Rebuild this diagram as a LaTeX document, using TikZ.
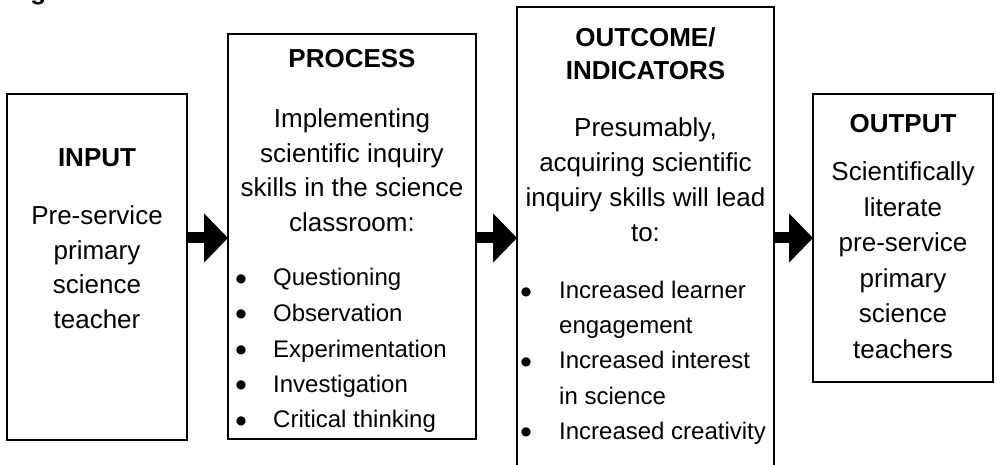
\documentclass[tikz,border=0pt]{standalone}
\usepackage{fontspec}
\setmainfont{Liberation Sans}
\newfontfamily\bulfont{DejaVu Sans}
\usetikzlibrary{arrows.meta}
\begin{document}
\begin{tikzpicture}[x=1pt,y=-1pt,
  box/.style={draw, line width=1.8pt, inner sep=0pt, outer sep=0pt, anchor=north west},
  t/.style={font=\fontsize{26}{31}\selectfont, inner sep=0pt, anchor=base},
  tl/.style={font=\fontsize{24}{29}\selectfont, inner sep=0pt, anchor=base west},
  hd/.style={font=\fontsize{26}{31}\selectfont\bfseries, inner sep=0pt, anchor=base},
  bul/.style={font=\bulfont\fontsize{12}{13}\selectfont, inner sep=0pt, anchor=center},
  conn/.style={line width=11pt, -{Triangle[length=24pt,width=48pt]}}]
\useasboundingbox (0,0) rectangle (997,465);
% cut-off caption
\node[hd, anchor=base west] (fig) at (7,0) {Figure};
% boxes
\node[box, minimum width=180pt, minimum height=346pt] (inp) at (7,94) {};
\node[box, minimum width=248pt, minimum height=405pt] (proc) at (228,34) {};
\node[box, minimum width=257pt, minimum height=470pt] (outc) at (517,7) {};
\node[box, minimum width=180pt, minimum height=288pt] (outp) at (813,94) {};
% INPUT
\node[hd] (inph) at (97,167) {INPUT};
\foreach \txt/\yy [count=\i] in {Pre-service/225, primary/259.5, science/294, teacher/328.5}
  \node[t] (inp\i) at (97,\yy) {\txt};
% PROCESS
\node[hd] (proch) at (352,68) {PROCESS};
\foreach \txt/\yy [count=\i] in {Implementing/128, scientific inquiry/162.5, skills in the science/197, classroom:/231.5}
  \node[t] (proc\i) at (352,\yy) {\txt};
\foreach \txt/\yy [count=\i] in {Questioning/286, Observation/321.5, Experimentation/357, Investigation/392.5, Critical thinking/428}{
  \node[bul] (procb\i) at (241,\yy-7) {●};
  \node[tl] (procl\i) at (273,\yy) {\txt};
}
% OUTCOME
\node[hd] (outch1) at (645.5,47) {OUTCOME/};
\node[hd] (outch2) at (645.5,80) {INDICATORS};
\foreach \txt/\yy [count=\i] in {{Presumably,}/137, acquiring scientific/172, inquiry skills will lead/207, to:/242}
  \node[t] (outc\i) at (645.5,\yy) {\txt};
\foreach \yy [count=\i] in {299, 369, 439}
  \node[bul] (outcb\i) at (526,\yy-7) {●};
\foreach \txt/\yy [count=\i] in {Increased learner/299, engagement/334, Increased interest/369, in science/404, Increased creativity/439}
  \node[tl] (outcl\i) at (559,\yy) {\txt};
% OUTPUT
\node[hd] (outph) at (903,133) {OUTPUT};
\foreach \txt/\yy [count=\i] in {Scientifically/181, literate/216.5, pre-service/252, primary/287.5, science/323, teachers/358.5}
  \node[t] (outp\i) at (903,\yy) {\txt};
% connectors
\coordinate (ay) at (0,238);
\draw[conn] (inp.east |- ay) -- (proc.west |- ay);
\draw[conn] (proc.east |- ay) -- (outc.west |- ay);
\draw[conn] (outc.east |- ay) -- (outp.west |- ay);
\end{tikzpicture}
\end{document}
